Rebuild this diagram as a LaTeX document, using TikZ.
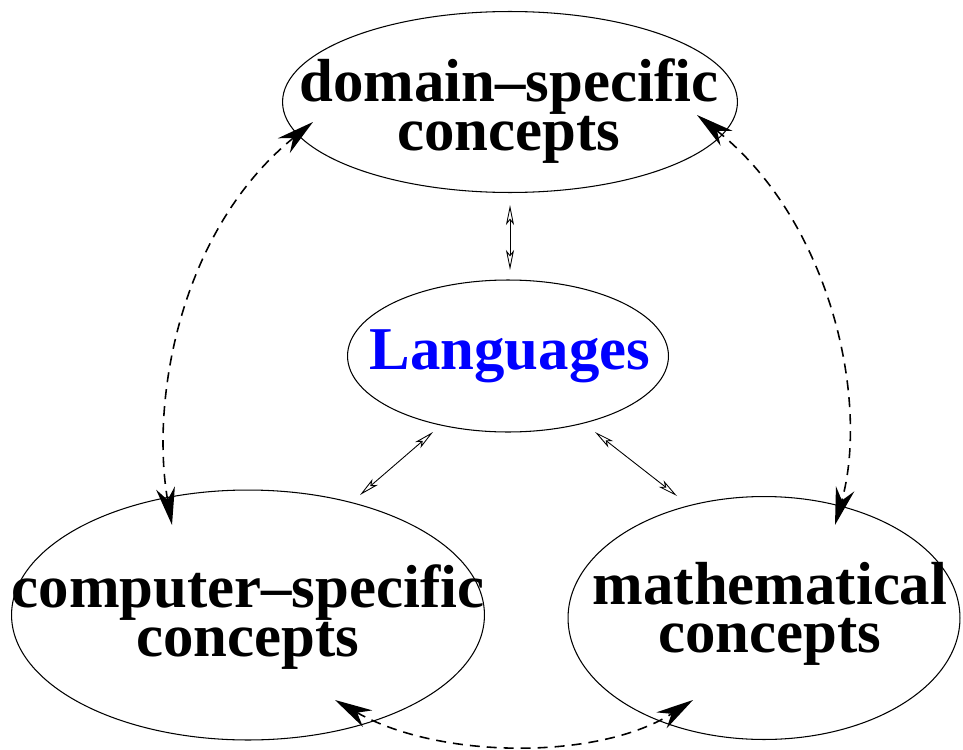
\documentclass[tikz,border=0pt]{standalone}
\usepackage{fontspec}
\setmainfont{Liberation Serif}
\usepackage{tikz}
\usetikzlibrary{arrows.meta,shapes.geometric}
\definecolor{langblue}{RGB}{0,0,255}
\tikzset{
  blob/.style={draw=black,ellipse,line width=0.6pt,inner sep=0pt},
  lab/.style={font=\fontsize{34.6}{27.5}\selectfont\bfseries,align=center,inner sep=0pt},
  link/.style={{Stealth[open,length=4mm,width=1.6mm,inset=1mm]}-{Stealth[open,length=4mm,width=1.6mm,inset=1mm]},line width=0.5pt},
  loop/.style={{Stealth[length=7.5mm,width=3.8mm,inset=2.4mm]}-{Stealth[length=7.5mm,width=3.8mm,inset=2.4mm]},
               line width=0.9pt,dash pattern=on 2mm off 1.4mm},
}

\begin{document}
\begin{tikzpicture}[x=0.02cm,y=-0.02cm]
  \path[use as bounding box] (0,0) rectangle (963,750);

  \node[blob,minimum width=9.1cm,minimum height=3.62cm] (dom) at (510,102) {};
  \node[blob,minimum width=6.42cm,minimum height=3.04cm] (lang) at (508,356) {};
  \node[blob,minimum width=9.46cm,minimum height=5.0cm] (comp) at (248,615) {};
  \node[blob,minimum width=7.84cm,minimum height=4.86cm] (math) at (764,618) {};

  \node[lab] (domtxt) at (509,111) {domain--specific\\concepts};
  \node[lab,text=langblue] (langtxt) at (510,356) {Languages};
  \node[lab] (comptxt) at (248,617) {computer--specific\\concepts};
  \node[lab] (mathtxt) at (770,614) {mathematical\\concepts};

  % small links to the centre
  \coordinate (d1) at (510,205);
  \coordinate (l1) at (510,270);
  \coordinate (l2) at (433,432);
  \coordinate (c1) at (360,495);
  \coordinate (l3) at (595,432);
  \coordinate (m1) at (677,496);
  \draw[link] (d1) -- (l1);
  \draw[link] (c1) -- (l2);
  \draw[link] (l3) -- (m1);

  % dashed loops round the outside
  \coordinate (d2) at (313,122);
  \coordinate (c2) at (172,525);
  \coordinate (d3) at (697,115);
  \coordinate (m2) at (835,525);
  \coordinate (c3) at (335,700);
  \coordinate (m3) at (693,700);
  \draw[loop] (d2) .. controls (180,230) and (150,400) .. (c2);
  \draw[loop] (d3) .. controls (830,220) and (870,400) .. (m2);
  \draw[loop] (c3) .. controls (440,760) and (600,760) .. (m3);
\end{tikzpicture}
\end{document}
